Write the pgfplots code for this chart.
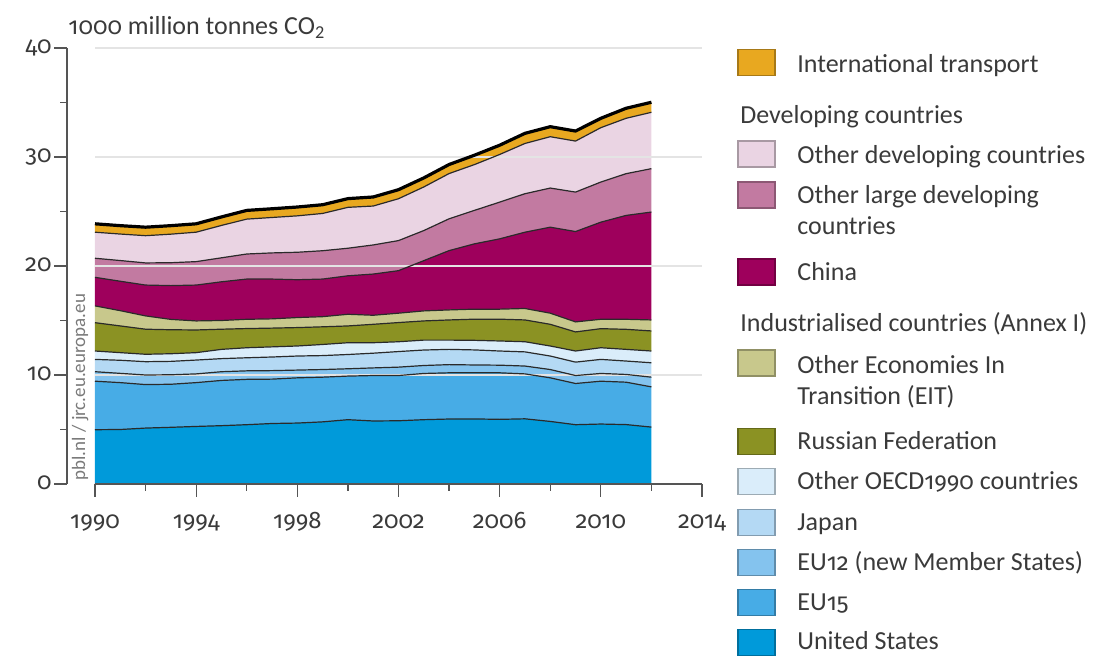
\documentclass[border=0pt]{standalone}
\usepackage{fontspec}
\setmainfont{Carlito}
\newfontfamily\osf{Fira Sans}[Numbers=OldStyle, Scale=0.92]
\usepackage{pgfplots}
\usepackage{pgfplotstable}
\pgfplotsset{compat=1.18}
\definecolor{txt}{HTML}{3A3A3A}
\definecolor{axisc}{HTML}{555555}
\definecolor{gridc}{HTML}{E4E4E4}
\definecolor{wmc}{HTML}{7A7A7A}
\definecolor{lc}{HTML}{2A2A2A}
\definecolor{cUS}{HTML}{009ADA}
\definecolor{cEUf}{HTML}{47ACE6}
\definecolor{cEUt}{HTML}{84C3EE}
\definecolor{cJP}{HTML}{B4D9F4}
\definecolor{cOECD}{HTML}{DAEDFA}
\definecolor{cRU}{HTML}{8B9223}
\definecolor{cEIT}{HTML}{C8C88C}
\definecolor{cCN}{HTML}{9E005C}
\definecolor{cOLD}{HTML}{C27AA1}
\definecolor{cODEV}{HTML}{EAD4E3}
\definecolor{cINT}{HTML}{E8A820}

\pgfplotstableread{
year us eu15 eu12 jp oecd ru eit cn old odev intl
1990 4.98 4.45 0.87 1.13 0.77 2.60 1.54 2.62 1.75 2.39 0.77
1991 5.00 4.30 0.85 1.20 0.70 2.45 1.40 2.70 1.90 2.43 0.77
1992 5.13 3.99 0.88 1.22 0.68 2.30 1.22 2.83 2.03 2.50 0.78
1993 5.20 3.95 0.87 1.23 0.70 2.20 0.95 3.10 2.10 2.62 0.78
1994 5.28 4.02 0.80 1.27 0.68 2.08 0.83 3.29 2.15 2.70 0.77
1995 5.35 4.15 0.80 1.20 0.85 1.85 0.80 3.55 2.20 2.97 0.78
1996 5.44 4.16 0.78 1.20 0.92 1.76 0.85 3.69 2.30 3.20 0.80
1997 5.55 4.07 0.78 1.25 0.93 1.72 0.85 3.65 2.40 3.25 0.80
1998 5.59 4.15 0.71 1.29 0.92 1.69 0.92 3.47 2.52 3.34 0.81
1999 5.70 4.10 0.70 1.28 1.02 1.62 0.93 3.45 2.60 3.42 0.80
2000 5.90 4.00 0.67 1.31 1.08 1.54 1.07 3.53 2.53 3.75 0.80
2001 5.78 4.17 0.70 1.35 0.96 1.69 0.83 3.78 2.67 3.57 0.83
2002 5.80 4.15 0.77 1.43 0.90 1.76 0.86 3.90 2.76 3.84 0.83
2003 5.90 4.24 0.73 1.42 0.91 1.76 0.92 4.61 2.76 4.00 0.83
2004 5.96 4.24 0.75 1.40 0.85 1.85 0.92 5.44 2.92 4.15 0.83
2005 5.97 4.23 0.72 1.38 0.88 1.94 0.92 5.99 3.07 4.20 0.86
2006 5.93 4.27 0.70 1.30 0.92 2.00 0.92 6.45 3.37 4.37 0.85
2007 5.98 4.12 0.72 1.30 0.93 2.00 1.05 7.00 3.53 4.61 0.93
2008 5.74 4.00 0.76 1.24 0.92 1.99 1.02 7.89 3.59 4.71 0.92
2009 5.44 3.78 0.73 1.23 1.02 1.75 0.92 8.29 3.62 4.68 0.92
2010 5.50 3.93 0.71 1.29 1.07 1.75 0.86 8.91 3.68 4.99 0.86
2011 5.45 3.89 0.71 1.23 1.07 1.84 0.92 9.53 3.83 5.08 0.92
2012 5.22 3.69 0.89 1.32 1.08 1.84 1.01 9.90 3.98 5.17 0.92
}\emis

\pgfplotsset{
  base/.style={scale only axis, width=317.5pt, height=218pt,
    xmin=1988.893, xmax=2014, ymin=0, ymax=40,
    at={(0,0)}, anchor=south west, stack plots=y, no markers},
}

\newcommand{\sw}[2]{\filldraw[fill=#1, draw=#1!72!black, line width=0.6pt] (335.5,{#2-6.5}) rectangle (354,{#2+6.5});}
\newcommand{\lt}[2]{\node[anchor=base west, inner sep=0pt] at (365,#1) {#2};}

\begin{document}
\begin{tikzpicture}[x=1pt,y=1pt,font=\fontsize{13}{15}\selectfont, text=txt]
\path (-33.5,-86) rectangle (513,242);
\begin{axis}[base,
  axis lines*=left,
  x axis line style={draw=none},
  y axis line style={draw=axisc, line width=0.6pt},
  tick align=outside,
  xtick={1990,1994,...,2014}, minor xtick={1992,1996,...,2012},
  ytick={0,10,...,40}, minor ytick={5,15,...,35},
  major tick length=6.5pt, minor tick length=3.5pt,
  tick style={axisc, line width=0.6pt},
  minor tick style={axisc, line width=0.6pt},
  /pgf/number format/assume math mode=true,
  /pgf/number format/1000 sep={},
  tick label style={font=\fontsize{13}{15}\selectfont\osf, text=txt},
  xticklabel style={inner sep=0pt, text height=15.5pt, text depth=0pt},
  yticklabel style={inner sep=0pt, text height=6pt, text depth=0pt, xshift=-1pt},
]
\draw[gridc, line width=0.7pt] (axis cs:1990,10) -- (axis cs:2014,10);
\draw[gridc, line width=0.7pt] (axis cs:1990,20) -- (axis cs:2014,20);
\draw[gridc, line width=0.7pt] (axis cs:1990,30) -- (axis cs:2014,30);
\draw[gridc, line width=0.7pt] (axis cs:1990,40) -- (axis cs:2014,40);
\addplot[fill=cUS, draw=none] table[x=year,y=us]{\emis} \closedcycle;
\addplot[fill=cEUf, draw=none] table[x=year,y=eu15]{\emis} \closedcycle;
\addplot[fill=cEUt, draw=none] table[x=year,y=eu12]{\emis} \closedcycle;
\addplot[fill=cJP, draw=none] table[x=year,y=jp]{\emis} \closedcycle;
\addplot[fill=cOECD, draw=none] table[x=year,y=oecd]{\emis} \closedcycle;
\addplot[fill=cRU, draw=none] table[x=year,y=ru]{\emis} \closedcycle;
\addplot[fill=cEIT, draw=none] table[x=year,y=eit]{\emis} \closedcycle;
\addplot[fill=cCN, draw=none] table[x=year,y=cn]{\emis} \closedcycle;
\addplot[fill=cOLD, draw=none] table[x=year,y=old]{\emis} \closedcycle;
\addplot[fill=cODEV, draw=none] table[x=year,y=odev]{\emis} \closedcycle;
\addplot[fill=cINT, draw=none] table[x=year,y=intl]{\emis} \closedcycle;
\node[rotate=90, anchor=west, inner sep=0pt, font=\fontsize{9.5}{11}\selectfont, text=wmc] at (axis cs:1989.41,0.3) {pbl.nl / jrc.eu.europa.eu};
\end{axis}
\begin{axis}[base, hide axis, clip=false]
\addplot[draw=lc, line width=0.6pt] table[x=year,y=us]{\emis};
\addplot[draw=lc, line width=0.6pt] table[x=year,y=eu15]{\emis};
\addplot[draw=lc, line width=0.6pt] table[x=year,y=eu12]{\emis};
\addplot[draw=lc, line width=0.6pt] table[x=year,y=jp]{\emis};
\addplot[draw=lc, line width=0.6pt] table[x=year,y=oecd]{\emis};
\addplot[draw=lc, line width=0.6pt] table[x=year,y=ru]{\emis};
\addplot[draw=lc, line width=0.6pt] table[x=year,y=eit]{\emis};
\addplot[draw=lc, line width=0.6pt] table[x=year,y=cn]{\emis};
\addplot[draw=lc, line width=0.6pt] table[x=year,y=old]{\emis};
\addplot[draw=lc, line width=0.6pt] table[x=year,y=odev]{\emis};
\addplot[draw=black, line width=1.6pt] table[x=year,y=intl]{\emis};
\draw[axisc, line width=0.6pt] (axis cs:1990,0) -- (axis cs:2014,0);
\end{axis}
\node[anchor=base west, inner sep=0pt] at (0.5,224.5) {{\osf 1000} million tonnes CO\textsubscript{2}};
% legend
\sw{cINT}{210.75}  \lt{205.65}{International transport}
\node[anchor=base west, inner sep=0pt] at (336.5,180.35) {Developing countries};
\sw{cODEV}{165}    \lt{160.35}{Other developing countries}
\sw{cOLD}{144.5}   \lt{140.35}{Other large developing}
                   \lt{124.5}{countries}
\sw{cCN}{106}      \lt{101.65}{China}
\node[anchor=base west, inner sep=0pt] at (336.5,76.15) {Industrialised countries (Annex I)};
\sw{cEIT}{60.5}    \lt{55.35}{Other Economies In}
                   \lt{39.5}{Transition (EIT)}
\sw{cRU}{21.15}    \lt{17}{Russian Federation}
\sw{cOECD}{1.15}   \lt{-3}{Other OECD{\osf 1990} countries}
\sw{cJP}{-19.25}   \lt{-23.35}{Japan}
\sw{cEUt}{-39.25}  \lt{-43.35}{EU{\osf 12} (new Member States)}
\sw{cEUf}{-59.25}  \lt{-63.35}{EU{\osf 15}}
\sw{cUS}{-79.25}   \lt{-83}{United States}
\end{tikzpicture}
\end{document}
